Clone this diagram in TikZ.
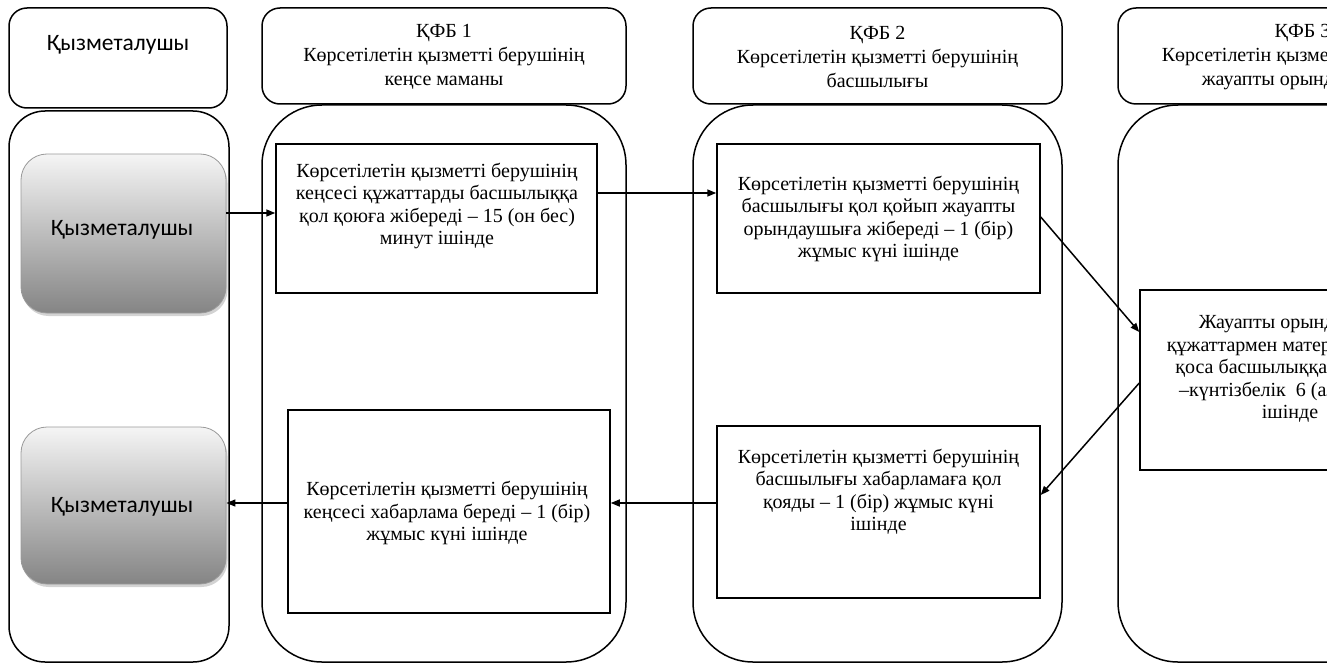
\documentclass[tikz,border=0pt]{standalone}
\usepackage{fontspec}
\setmainfont{Liberation Serif}
\newfontfamily\sansf{Carlito}
\usetikzlibrary{arrows.meta,shadows}
\begin{document}
\begin{tikzpicture}[x=1pt,y=-1pt,
  line/.style={line width=1.5pt, draw=black},
  hdr/.style={line, rounded corners=18pt, minimum height=96pt, inner sep=0pt},
  lane/.style={line, rounded corners=60pt, minimum height=557pt, inner sep=0pt},
  stepbox/.style={line, minimum width=322pt, inner sep=0pt},
  txt/.style={align=center, font=\fontsize{20}{22.5}\selectfont, text=black, inner sep=0pt},
  htxt/.style={align=center, font=\fontsize{20}{24}\selectfont, text=black, inner sep=0pt},
  stxt/.style={font=\sansf\fontsize{23.5}{26}\selectfont, text=black, inner sep=0pt},
  grad/.style={draw=black!40, line width=0.8pt, rounded corners=26pt, top color=white!96!black,
    bottom color=black!48, minimum width=205pt, inner sep=0pt,
    drop shadow={opacity=0.35, shadow xshift=1.5pt, shadow yshift=-3pt}},
  arr/.style={line, -{Triangle[length=9pt,width=7pt]}}]
\useasboundingbox (0,0) rectangle (1327,666);
\clip (0,0) rectangle (1327,666);

% headers
\node[hdr, minimum width=218pt, minimum height=100pt] (h0) at (118,58) {};
\node[stxt] (h0t) at (118,45) {Қызметалушы};
\node[hdr, minimum width=364pt] (h1) at (444,56) {};
\node[htxt] (h1t) at (444,57) {ҚФБ 1\\Көрсетілетін қызметті берушінің\\кеңсе маманы};
\node[hdr, minimum width=369pt] (h2) at (877.5,56) {};
\node[htxt] (h2t) at (877.5,57) {ҚФБ 2\\Көрсетілетін қызметті берушінің\\басшылығы};
\node[hdr, minimum width=369pt] (h3) at (1302.5,56) {};
\node[htxt] (h3t) at (1302.5,57) {ҚФБ 3\\Көрсетілетін қызметті берушінің\\жауапты орындаушысы};

% lanes
\node[line, rounded corners=36pt, minimum width=220pt, minimum height=551pt, inner sep=0pt] (l0) at (119,386.5) {};
\node[lane, minimum width=364pt] (l1) at (444,383.5) {};
\node[lane, minimum width=369pt] (l2) at (877.5,383.5) {};
\node[lane, minimum width=369pt] (l3) at (1302.5,383.5) {};

% client boxes
\node[grad, minimum height=159pt] (g1) at (123.5,233.5) {};
\node[stxt] (g1t) at (122,230) {Қызметалушы};
\node[grad, minimum height=157pt] (g2) at (123.5,505.5) {};
\node[stxt] (g2t) at (122,507) {Қызметалушы};

% process boxes
\node[stepbox, minimum width=321pt, minimum height=149pt] (bA) at (436.5,218.5) {};
\node[txt] (bAt) at (437,206) {Көрсетілетін қызметті берушінің\\кеңсесі құжаттарды басшылыққа\\қол қоюға жібереді – 15 (он бес)\\минут ішінде};
\node[stepbox, minimum width=323pt, minimum height=149pt] (bB) at (878.5,218.5) {};
\node[txt] (bBt) at (878.5,219) {Көрсетілетін қызметті берушінің\\басшылығы қол қойып жауапты\\орындаушыға жібереді – 1 (бір)\\жұмыс күні ішінде};
\node[stepbox, minimum width=300pt, minimum height=180pt] (bC) at (1290,380) {};
\node[txt] (bCt) at (1290,369) {Жауапты орындаушы\\құжаттармен материалдарды\\қоса басшылыққа жібереді\\–күнтізбелік\ \ 6 (алты) күн\\ішінде};
\node[stepbox, minimum width=322pt, minimum height=203pt] (bD) at (449,511.5) {};
\node[txt] (bDt) at (447,513) {Көрсетілетін қызметті берушінің\\кеңсесі хабарлама береді – 1 (бір)\\жұмыс күні ішінде};
\node[stepbox, minimum width=323pt, minimum height=172pt] (bE) at (878.5,512) {};
\node[txt] (bEt) at (878.5,492) {Көрсетілетін қызметті берушінің\\басшылығы хабарламаға қол\\қояды – 1 (бір) жұмыс күні\\ішінде};

% connector levels
\coordinate (y1) at (0,213);
\coordinate (y2) at (0,193);
\coordinate (y3a) at (0,217);
\coordinate (y3b) at (0,332);
\coordinate (y4a) at (0,383);
\coordinate (y4b) at (0,495);
\coordinate (y5) at (0,503);

\draw[arr] (g1.east |- y1) -- (bA.west |- y1);
\draw[arr] (bA.east |- y2) -- (bB.west |- y2);
\draw[arr] (bB.east |- y3a) -- (bC.west |- y3b);
\draw[arr] (bC.west |- y4a) -- (bE.east |- y4b);
\draw[arr] (bE.west |- y5) -- (bD.east |- y5);
\draw[arr] (bD.west |- y5) -- (g2.east |- y5);
\end{tikzpicture}
\end{document}
